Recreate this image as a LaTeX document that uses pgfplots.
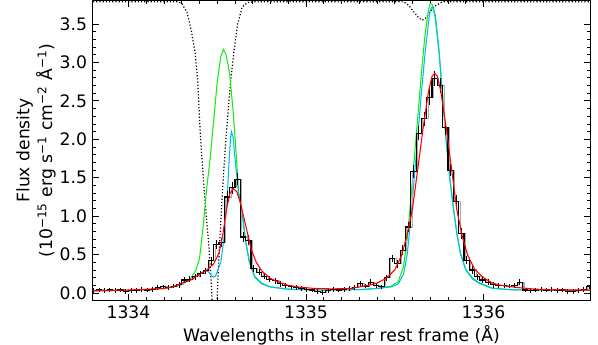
\documentclass[border=0pt]{standalone}
\usepackage{fontspec}
\setmainfont{DejaVu Sans}
\usepackage{pgfplots}
\usepackage{pgfplotstable}
\pgfplotsset{compat=1.18}
\usetikzlibrary{calc}

\definecolor{lgreen}{RGB}{20,235,20}
\definecolor{skyc}{RGB}{0,190,235}

% wavelengths are stored as (lambda - 1334) in Angstrom
% binned spectrum: left bin edge, flux, error
\pgfplotstableread{
e v err
-0.21 0.03 0.03
-0.18 0.04 0.03
-0.15 0.03 0.03
-0.12 0.04 0.03
-0.09 0.03 0.03
-0.06 0.04 0.03
-0.03 0.02 0.03
0.00 0.03 0.03
0.03 0.03 0.03
0.06 0.05 0.03
0.09 0.04 0.03
0.12 0.05 0.03
0.15 0.07 0.03
0.18 0.08 0.03
0.21 0.07 0.03
0.24 0.09 0.03
0.27 0.11 0.04
0.30 0.17 0.04
0.33 0.18 0.04
0.36 0.21 0.04
0.39 0.25 0.04
0.42 0.29 0.04
0.45 0.42 0.05
0.48 0.63 0.06
0.51 0.66 0.06
0.54 1.25 0.08
0.57 1.37 0.08
0.60 1.48 0.08
0.63 0.73 0.06
0.66 0.69 0.06
0.69 0.32 0.05
0.72 0.27 0.04
0.75 0.22 0.04
0.78 0.18 0.04
0.81 0.16 0.04
0.84 0.12 0.04
0.87 0.10 0.03
0.90 0.08 0.03
0.93 0.07 0.03
0.96 0.06 0.03
0.99 0.05 0.03
1.02 0.04 0.03
1.05 0.02 0.03
1.08 0.01 0.03
1.11 0.03 0.03
1.14 0.05 0.03
1.17 0.04 0.03
1.20 0.05 0.03
1.23 0.06 0.03
1.26 0.07 0.03
1.29 0.12 0.04
1.32 0.09 0.03
1.35 0.14 0.04
1.38 0.10 0.03
1.41 0.08 0.03
1.44 0.20 0.04
1.47 0.45 0.05
1.50 0.38 0.05
1.53 0.56 0.06
1.56 0.86 0.07
1.59 1.58 0.08
1.62 2.08 0.09
1.65 2.27 0.09
1.68 2.55 0.10
1.71 2.79 0.10
1.74 2.70 0.10
1.77 2.15 0.09
1.80 1.60 0.08
1.83 1.19 0.08
1.86 0.78 0.07
1.89 0.43 0.05
1.92 0.30 0.05
1.95 0.21 0.04
1.98 0.17 0.04
2.01 0.14 0.04
2.04 0.11 0.04
2.07 0.10 0.03
2.10 0.10 0.03
2.13 0.09 0.03
2.16 0.10 0.03
2.19 0.14 0.04
2.22 0.04 0.03
2.25 0.03 0.03
2.28 0.04 0.03
2.31 0.05 0.03
2.34 0.04 0.03
2.37 0.05 0.03
2.40 0.03 0.03
2.43 0.04 0.03
2.46 0.02 0.03
2.49 0.02 0.03
2.52 0.03 0.03
2.55 0.05 0.03
2.58 0.08 0.03
2.61 0.08 0.03
}\hist

\begin{document}
\fontsize{12.9}{17}\selectfont
\begin{tikzpicture}
\begin{axis}[
    scale only axis,
    width=372.75pt, height=224.25pt,
    xmin=-0.20, xmax=2.60,
    ymin=-0.09, ymax=3.80,
    xtick={0,1,2},
    xticklabels={1334,1335,1336},
    minor x tick num=9,
    ytick={0,0.5,...,3.5},
    minor y tick num=4,
    tick align=inside,
    xtick pos=both, ytick pos=both,
    major tick length=4.5pt,
    minor tick length=2.3pt,
    every tick/.style={black, line width=0.7pt},
    axis line style={line width=0.75pt},
    yticklabel style={/pgf/number format/.cd, fixed, fixed zerofill, precision=1, assume math mode=true},
    xlabel={Wavelengths in stellar rest frame (Å)},
    xlabel style={yshift=4pt},
    every axis y label/.style={at={(axis description cs:-0.063,0.5)}, rotate=90, anchor=south, align=center},
    ylabel={Flux density\\(10\textsuperscript{−15} erg s\textsuperscript{−1} cm\textsuperscript{−2} Å\textsuperscript{−1})},
]
% ISM transmission (scaled)
\addplot[black, line width=0.9pt, dash pattern=on 0.9pt off 1.5pt] coordinates {
(-0.20,3.79) (0.28,3.79) (0.30,3.77) (0.33,3.65) (0.355,3.40) (0.376,3.12) (0.39,2.75) (0.405,2.05)
(0.42,1.55) (0.435,1.10) (0.451,0.65) (0.462,0.30) (0.47,-0.05) (0.475,-0.3) (0.495,-0.3) (0.50,-0.05)
(0.507,0.35) (0.517,0.80) (0.53,1.35) (0.55,2.05) (0.575,2.75) (0.595,3.16) (0.615,3.50) (0.64,3.72)
(0.67,3.78) (0.70,3.79) (1.55,3.79) (1.58,3.74) (1.61,3.65) (1.635,3.58) (1.655,3.55) (1.675,3.58)
(1.70,3.66) (1.73,3.74) (1.77,3.79) (2.60,3.79)};
% intrinsic profile
\addplot[lgreen, line width=0.8pt] coordinates {
(-0.20,0.03) (0.00,0.035) (0.10,0.045) (0.20,0.06) (0.30,0.11) (0.35,0.19) (0.38,0.30) (0.40,0.45)
(0.42,0.85) (0.44,1.35) (0.46,1.75) (0.48,2.25) (0.50,2.75) (0.52,3.08) (0.535,3.17) (0.55,3.10)
(0.57,2.85) (0.59,2.35) (0.61,1.70) (0.62,1.32) (0.64,1.04) (0.66,0.67) (0.68,0.41) (0.71,0.21)
(0.75,0.12) (0.80,0.08) (0.90,0.05) (1.10,0.04) (1.30,0.045) (1.40,0.06) (1.48,0.09) (1.52,0.15)
(1.55,0.35) (1.57,0.70) (1.59,1.20) (1.61,1.75) (1.63,2.30) (1.65,2.85) (1.67,3.35) (1.69,3.68)
(1.70,3.77) (1.71,3.76) (1.73,3.60) (1.75,3.14) (1.77,2.55) (1.79,1.97) (1.81,1.49) (1.83,1.11)
(1.85,0.77) (1.87,0.51) (1.90,0.30) (1.94,0.18) (1.98,0.12) (2.05,0.06) (2.15,0.044) (2.30,0.037)
(2.60,0.034)};
% absorbed and convolved profile
\addplot[skyc, line width=0.8pt] coordinates {
(-0.20,0.03) (0.00,0.035) (0.10,0.045) (0.20,0.06) (0.28,0.10) (0.35,0.17) (0.40,0.25) (0.43,0.29)
(0.45,0.28) (0.47,0.22) (0.48,0.21) (0.49,0.22) (0.50,0.28) (0.52,0.40) (0.54,0.75) (0.555,1.20)
(0.565,1.65) (0.575,2.02) (0.58,2.10) (0.59,2.02) (0.60,1.75) (0.62,1.30) (0.64,1.05) (0.66,0.68)
(0.68,0.42) (0.71,0.22) (0.75,0.13) (0.80,0.08) (0.90,0.05) (1.10,0.04) (1.30,0.045) (1.40,0.06)
(1.48,0.08) (1.52,0.12) (1.55,0.25) (1.57,0.50) (1.59,0.95) (1.61,1.50) (1.63,2.05) (1.65,2.60)
(1.67,3.10) (1.69,3.52) (1.70,3.68) (1.71,3.72) (1.72,3.68) (1.73,3.55) (1.75,3.12) (1.77,2.55)
(1.79,1.98) (1.81,1.50) (1.83,1.12) (1.85,0.78) (1.87,0.52) (1.90,0.31) (1.94,0.19) (1.98,0.13)
(2.05,0.065) (2.15,0.045) (2.30,0.038) (2.60,0.035)};
% observed spectrum
\addplot[const plot mark left, gray!65, line width=0.8pt] table[x expr=\thisrow{e}+0.008, y=v]{\hist};
\addplot[const plot mark left, black, line width=0.8pt] table[x=e, y=v]{\hist};
\addplot[draw=none, mark=none, error bars/.cd, y dir=both, y explicit, error mark=none,
    error bar style={draw=black, line width=0.6pt}]
    table[x expr=\thisrow{e}+0.015, y=v, y error=err]{\hist};
% best fit
\addplot[red, line width=0.8pt] coordinates {
(-0.20,0.03) (0.00,0.04) (0.10,0.05) (0.20,0.06) (0.25,0.08) (0.30,0.13) (0.35,0.17) (0.40,0.24)
(0.44,0.30) (0.48,0.38) (0.51,0.52) (0.53,0.74) (0.55,1.06) (0.57,1.29) (0.59,1.36) (0.61,1.32)
(0.63,1.18) (0.65,0.98) (0.67,0.78) (0.69,0.58) (0.72,0.40) (0.75,0.29) (0.80,0.19) (0.85,0.14)
(0.90,0.10) (0.97,0.075) (1.05,0.06) (1.15,0.055) (1.25,0.06) (1.30,0.08) (1.35,0.10) (1.40,0.13)
(1.45,0.19) (1.50,0.30) (1.54,0.50) (1.57,0.76) (1.60,1.10) (1.63,1.62) (1.66,2.15) (1.69,2.62)
(1.71,2.82) (1.725,2.86) (1.74,2.82) (1.76,2.62) (1.79,2.15) (1.82,1.62) (1.85,1.08) (1.88,0.74)
(1.91,0.50) (1.95,0.31) (2.00,0.20) (2.05,0.13) (2.10,0.10) (2.20,0.07) (2.30,0.05) (2.45,0.04)
(2.60,0.04)};
\end{axis}
\pgfresetboundingbox
\path[use as bounding box] ($(current axis.south west)+(-69.75pt,-33pt)$) rectangle ($(current axis.north east)+(6pt,0.75pt)$);
\end{tikzpicture}
\end{document}
